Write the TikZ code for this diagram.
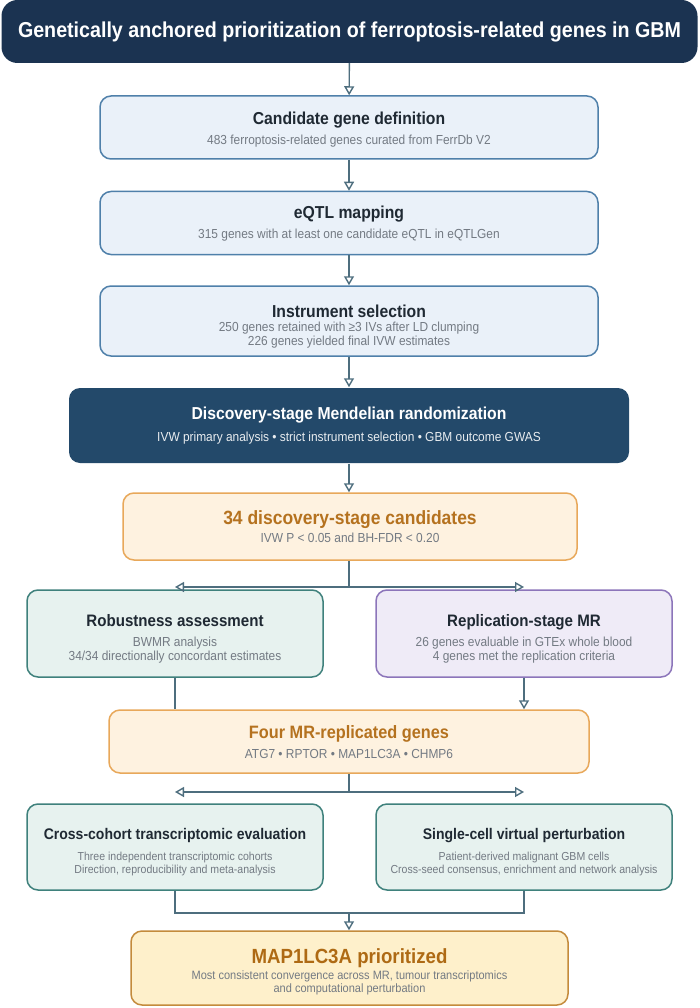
\documentclass[tikz,border=0pt]{standalone}
\usepackage{fontspec}
\setmainfont[FakeStretch=0.91]{Liberation Sans}
\usetikzlibrary{arrows.meta}

\definecolor{navy}{HTML}{1B3351}
\definecolor{discblue}{HTML}{23496A}
\definecolor{bluefill}{HTML}{EAF1F9}
\definecolor{blueline}{HTML}{4F80AA}
\definecolor{tealfill}{HTML}{E7F2EF}
\definecolor{tealline}{HTML}{3F817C}
\definecolor{lilacfill}{HTML}{EFEBF7}
\definecolor{lilacline}{HTML}{8C75BA}
\definecolor{orangefill}{HTML}{FEF2E0}
\definecolor{orangeline}{HTML}{E8A85A}
\definecolor{orangetext}{HTML}{B5721F}
\definecolor{goldfill}{HTML}{FEF0CB}
\definecolor{goldline}{HTML}{C48B3C}
\definecolor{goldtext}{HTML}{AE6A14}
\definecolor{linecol}{HTML}{4E6E7E}
\definecolor{darktext}{HTML}{1F2933}
\definecolor{subgray}{HTML}{737A83}

% title line: [size]{strut height}{text}
\newcommand{\ttl}[3][17.3]{{\fontsize{#1}{14}\selectfont\bfseries
  \color{darktext}\rule{0pt}{#2}#3}}
\newcommand{\hitl}[3]{{\fontsize{#1}{14}\selectfont\bfseries
  \rule{0pt}{#2}#3}}

\tikzset{>=latex}
\tikzset{
  stage/.style={draw, rounded corners=11pt, line width=1.5pt, align=center,
    inner sep=0pt, text=subgray, font=\fontsize{13.1}{14}\selectfont},
  bluebox/.style={stage, draw=blueline, fill=bluefill,
    minimum width=498pt, minimum height=63pt},
  tealbox/.style={stage, draw=tealline, fill=tealfill,
    minimum width=296pt, minimum height=87pt},
  lilacbox/.style={stage, draw=lilacline, fill=lilacfill,
    minimum width=296pt, minimum height=87pt},
  orangebox/.style={stage, draw=orangeline, fill=orangefill},
  conn/.style={draw=linecol, line width=1.4pt},
  arr/.style={conn, -{Triangle[open,length=9pt,width=10pt]}}
}

\begin{document}
\begin{tikzpicture}[x=1pt, y=-1pt]
    \fill [white] (0, 0) rectangle (700, 1008);
    \useasboundingbox (0, 0) rectangle (700, 1008);

    \coordinate (t0) at (349.5, 31.5);
    \coordinate (s1) at (349, 127.5);
    \coordinate (s2) at (349, 223);
    \coordinate (s3) at (349, 321);
    \coordinate (s4) at (349, 425.5);
    \coordinate (s5) at (350, 526.5);
    \coordinate (s6a) at (175, 633.5);
    \coordinate (s6b) at (524, 633.5);
    \coordinate (s7) at (349, 741.5);
    \coordinate (s8a) at (175, 847);
    \coordinate (s8b) at (524, 847);
    \coordinate (s9) at (349.5, 968);

    \node [fill=navy, rounded corners=16pt, minimum width=696pt,
    minimum height=63pt, inner sep=0pt, text=white,
    font=\fontsize{21.6}{26}\selectfont\bfseries] (head) at (t0)
    {Genetically anchored prioritization of ferroptosis-related genes in GBM};

    \node [bluebox] (curate) at (s1)
    {\ttl{16.6pt}{Candidate gene definition}\\[6pt]
    483 ferroptosis-related genes curated from FerrDb V2};

    \node [bluebox] (eqtl) at (s2)
    {\ttl{14.6pt}{eQTL mapping}\\[6pt]
    315 genes with at least one candidate eQTL in eQTLGen};

    \node [bluebox, minimum height=70pt] (instr) at (s3)
    {\ttl{23pt}{Instrument selection}\\
    250 genes retained with ≥3 IVs after LD clumping\\
    226 genes yielded final IVW estimates};

    \node [stage, draw=none, fill=discblue, minimum width=560pt,
    minimum height=75pt, text=white!90!discblue] (disc) at (s4)
    {\hitl{17.3}{13pt}{\color{white}Discovery-stage Mendelian randomization}\\[8pt]
    IVW primary analysis • strict instrument selection • GBM outcome GWAS};

    \node [orangebox, minimum width=454pt, minimum height=67pt] (cands) at (s5)
    {\hitl{19.2}{14pt}{\color{orangetext}34 discovery-stage candidates}\\[4pt]
    IVW P < 0.05 and BH-FDR < 0.20};

    \node [tealbox] (robust) at (s6a)
    {\ttl[16.6]{23pt}{Robustness assessment}\\[6pt]
    BWMR analysis\\
    34/34 directionally concordant estimates};

    \node [lilacbox] (replic) at (s6b)
    {\ttl[16.6]{23pt}{Replication-stage MR}\\[6pt]
    26 genes evaluable in GTEx whole blood\\
    4 genes met the replication criteria};

    \node [orangebox, minimum width=480pt, minimum height=63pt] (four) at (s7)
    {\hitl{17.9}{14pt}{\color{orangetext}Four MR-replicated genes}\\[6pt]
    ATG7 • RPTOR • MAP1LC3A • CHMP6};

    \node [tealbox, minimum height=86pt,
    font=\fontsize{11.6}{13}\selectfont] (cross) at (s8a)
    {\ttl[15.4]{21pt}{Cross-cohort transcriptomic evaluation}\\[8pt]
    Three independent transcriptomic cohorts\\
    Direction, reproducibility and meta-analysis};

    \node [tealbox, minimum height=86pt,
    font=\fontsize{11.6}{13}\selectfont] (single) at (s8b)
    {\ttl[15.4]{21pt}{Single-cell virtual perturbation}\\[8pt]
    Patient-derived malignant GBM cells\\
    Cross-seed consensus, enrichment and network analysis};

    \node [stage, draw=goldline, fill=goldfill, minimum width=437pt,
    minimum height=74pt, font=\fontsize{12.1}{13}\selectfont] (final) at (s9)
    {\hitl{20.5}{23pt}{\color{goldtext}MAP1LC3A prioritized}\\[2pt]
    Most consistent convergence across MR, tumour transcriptomics\\
    and computational perturbation};

    % main chain
    \draw [arr] (head) -- (curate);
    \draw [arr] (curate) -- (eqtl);
    \draw [arr] (eqtl) -- (instr);
    \draw [arr] (instr) -- (disc);
    \draw [arr] (disc) -- (cands.north -| disc);

    % first split
    \coordinate (fork1) at (349, 587);
    \draw [conn] (cands.south -| fork1) -- (fork1);
    \draw [arr] (fork1) -- (fork1 -| robust);
    \draw [arr] (fork1) -- (fork1 -| replic);

    \draw [conn] (robust.south) -- (robust.south |- four.north);
    \draw [arr] (replic.south) -- (replic.south |- four.north);

    % second split
    \coordinate (fork2) at (349, 792);
    \draw [conn] (four.south) -- (fork2);
    \draw [arr] (fork2) -- (fork2 -| cross);
    \draw [arr] (fork2) -- (fork2 -| single);

    % merge
    \coordinate (join) at (349, 913);
    \draw [conn] (cross.south) |- (join) -| (single.south);
    \draw [arr] (join) -- (final.north -| join);

\end{tikzpicture}
\end{document}
